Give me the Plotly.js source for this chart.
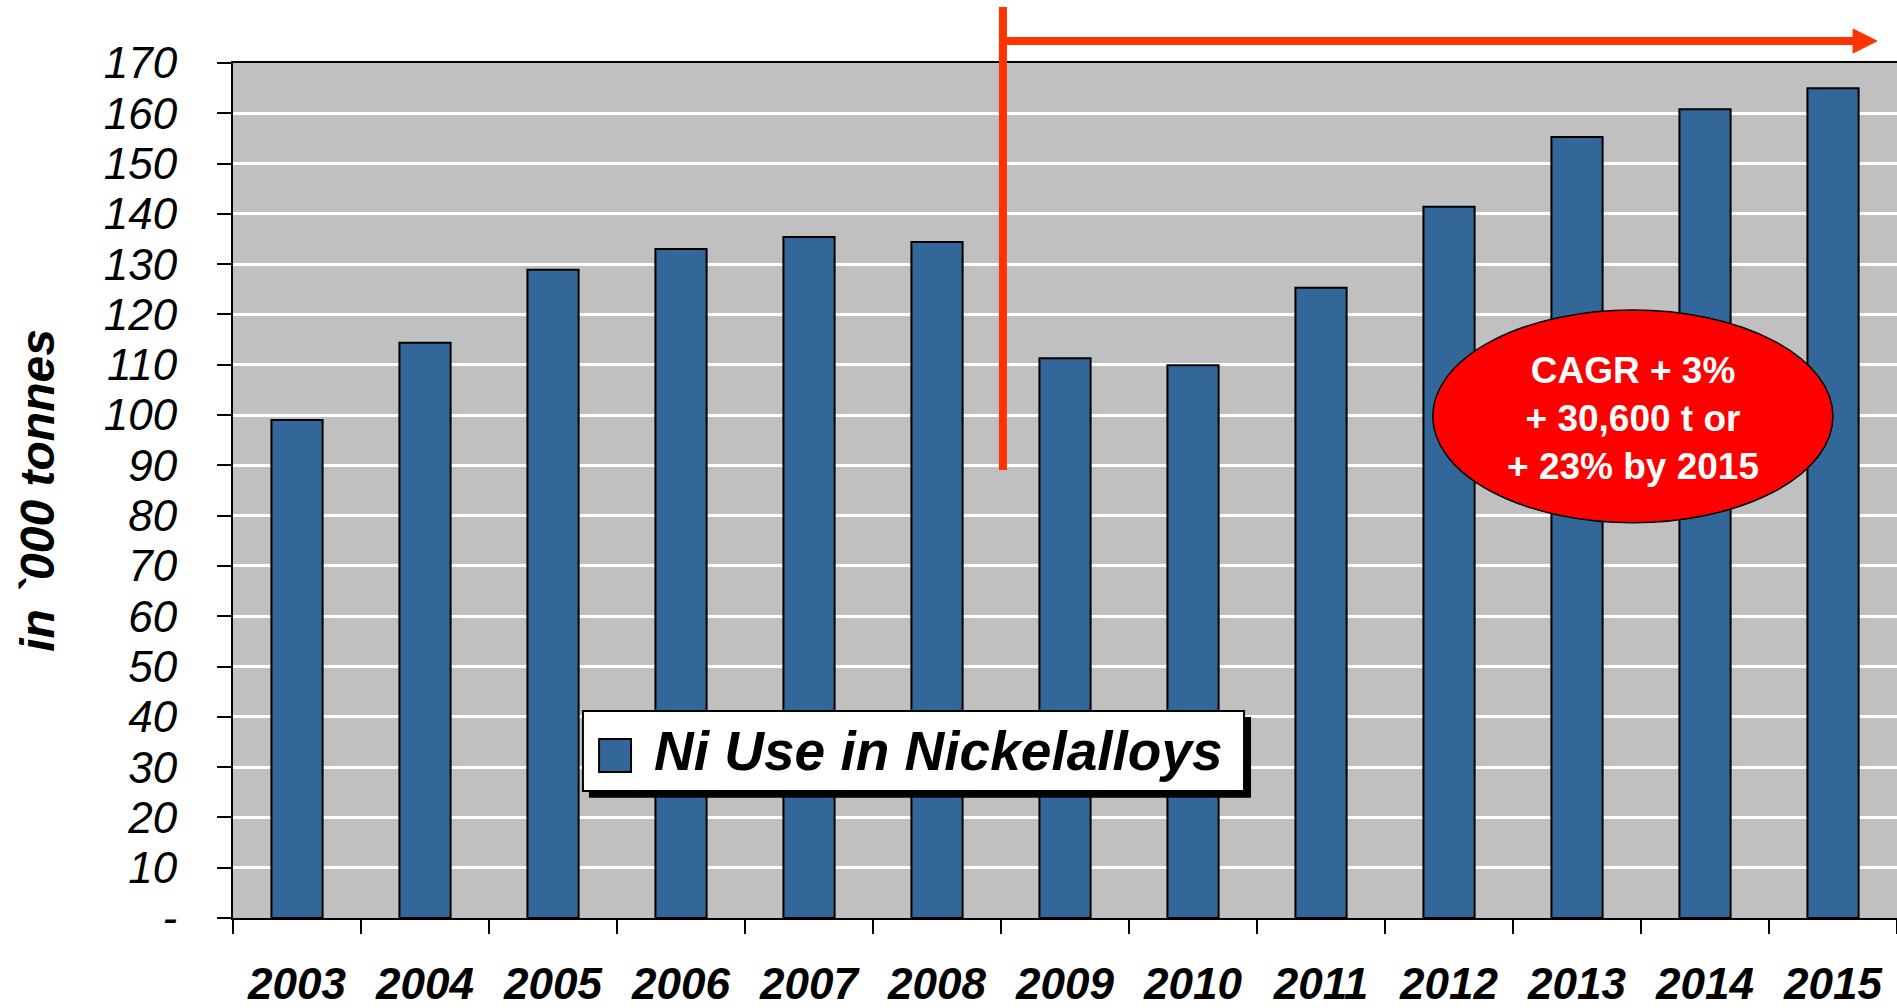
<!DOCTYPE html>
<html>
<head>
<meta charset="utf-8">
<script src="https://cdn.plot.ly/plotly-3.0.1.min.js"></script>
<style>
  html, body { margin: 0; padding: 0; background: #ffffff; }
  #chart { width: 1897px; height: 1008px; }
</style>
</head>
<body>
<div id="chart"></div>
<script>
// ---- data ----
const years = ["2003","2004","2005","2006","2007","2008","2009","2010","2011","2012","2013","2014","2015"];
const niUse = [99.0, 114.4, 128.9, 133.0, 135.4, 134.4, 111.3, 109.9, 125.3, 141.4, 155.3, 160.8, 165.0];
const seriesName = "Ni Use in Nickelalloys";
const yTickVals = [0,10,20,30,40,50,60,70,80,90,100,110,120,130,140,150,160,170];
const yTickText = ["-","10","20","30","40","50","60","70","80","90","100","110","120","130","140","150","160","170"];
const yTitle = "in `000 tonnes";
const calloutLines = ["CAGR + 3%", "+ 30,600 t or", "+ 23% by 2015"];

const FONT = "Liberation Sans, Arial, sans-serif";
const RED = "#FF3300";

const trace = {
  type: "bar",
  x: years,
  y: niUse,
  name: seriesName,
  width: 0.4,
  marker: { color: "#336699", line: { color: "#000000", width: 2 } },
  showlegend: false,
  hoverinfo: "x+y"
};

const layout = {
  width: 1897,
  height: 1008,
  margin: { l: 233, r: 0, t: 63, b: 90, pad: 0 },
  paper_bgcolor: "#ffffff",
  plot_bgcolor: "#C0C0C0",
  font: { family: FONT, color: "#000000" },
  showlegend: false,
  bargap: 0.6,
  xaxis: {
    type: "category",
    tickson: "boundaries",
    ticks: "outside",
    ticklen: 14,
    tickwidth: 2,
    tickcolor: "#000000",
    showline: true,
    linecolor: "#000000",
    linewidth: 2,
    mirror: true,
    showgrid: false,
    tickfont: { family: FONT, size: 44, color: "#000000", weight: "bold", style: "italic" },
    ticklabelstandoff: 26,
    fixedrange: true
  },
  yaxis: {
    range: [0, 170],
    tickvals: yTickVals,
    ticktext: yTickText,
    ticks: "outside",
    ticklen: 14,
    tickwidth: 2,
    tickcolor: "#000000",
    showline: true,
    linecolor: "#000000",
    linewidth: 2,
    showgrid: true,
    gridcolor: "#ffffff",
    gridwidth: 3,
    zeroline: false,
    tickfont: { family: FONT, size: 44, color: "#000000", style: "italic" },
    ticklabelstandoff: 31,
    title: {
      text: yTitle,
      font: { family: FONT, size: 48, color: "#000000", weight: "bold", style: "italic" },
      standoff: 34
    },
    fixedrange: true
  },
  shapes: [
    // red bracket arrow marking the forecast period
    { type: "line", xref: "paper", yref: "paper", x0: 0.4627, x1: 0.4627, y0: 0.524, y1: 1.0655,
      line: { color: RED, width: 8 } },
    { type: "line", xref: "paper", yref: "paper", x0: 0.4627, x1: 0.9748, y0: 1.0257, y1: 1.0257,
      line: { color: RED, width: 8 } },
    { type: "path", xref: "paper", yref: "paper",
      path: "M 0.9736 1.0397 L 0.988 1.0257 L 0.9736 1.0117 Z",
      fillcolor: RED, line: { color: RED, width: 1 } },
    // callout ellipse
    { type: "circle", xref: "paper", yref: "y", x0: 0.721, x1: 0.9615, y0: 78.6, y1: 120.9,
      fillcolor: "#FF0000", line: { color: "#000000", width: 1.5 } },
    // legend box: shadow, box, swatch
    { type: "rect", xref: "paper", yref: "paper", x0: 0.2139, x1: 0.6118, y0: 0.1407, y1: 0.2351,
      fillcolor: "#000000", line: { width: 0 } },
    { type: "rect", xref: "paper", yref: "paper", x0: 0.2103, x1: 0.6076, y0: 0.1485, y1: 0.2421,
      fillcolor: "#ffffff", line: { color: "#000000", width: 2 } },
    { type: "rect", xref: "paper", yref: "paper", x0: 0.2200, x1: 0.2392, y0: 0.1708, y1: 0.2094,
      fillcolor: "#336699", line: { color: "#000000", width: 2 } }
  ],
  annotations: [
    { xref: "paper", yref: "y", x: 0.8413, y: 99.4, xanchor: "center", yanchor: "middle",
      showarrow: false, text: calloutLines.join("<br>"), align: "center",
      font: { family: FONT, size: 37, color: "#ffffff", weight: "bold" } },
    { xref: "paper", yref: "paper", x: 0.2518, y: 0.1953, xanchor: "left", yanchor: "middle",
      showarrow: false, text: seriesName,
      font: { family: FONT, size: 55, color: "#000000", weight: "bold", style: "italic" } }
  ]
};

Plotly.newPlot("chart", [trace], layout, { displayModeBar: false });
</script>
</body>
</html>
